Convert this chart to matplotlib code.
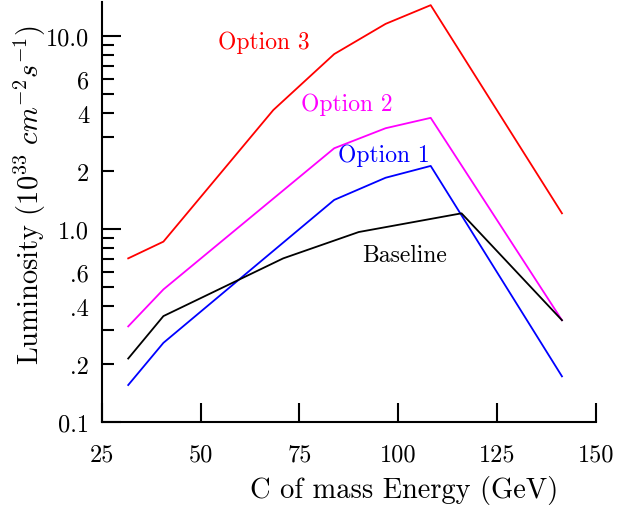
import matplotlib
matplotlib.use("Agg")
import matplotlib.pyplot as plt
from matplotlib.ticker import FixedLocator, FixedFormatter

plt.rcParams['font.family'] = ['cmr10', 'DejaVu Serif']
plt.rcParams['mathtext.fontset'] = 'cm'
plt.rcParams['axes.unicode_minus'] = False

# Data (centre-of-mass energy in GeV, luminosity in 1e33 cm^-2 s^-1)
opt3_x = [31.7, 40.6, 68.4, 83.8, 96.8, 108.2, 141.4]
opt3_y = [0.707, 0.863, 4.15, 8.09, 11.6, 14.5, 1.21]

opt2_x = [31.7, 40.6, 83.8, 96.8, 108.2, 141.4]
opt2_y = [0.314, 0.488, 2.63, 3.34, 3.78, 0.338]

opt1_x = [31.7, 40.6, 83.8, 96.8, 108.2, 141.4]
opt1_y = [0.156, 0.258, 1.42, 1.85, 2.13, 0.173]

base_x = [31.7, 40.6, 70.9, 90.0, 116.0, 141.4]
base_y = [0.214, 0.355, 0.707, 0.968, 1.21, 0.338]

labels = ["Option 3", "Option 2", "Option 1", "Baseline"]
label_x = [65.9, 86.9, 96.4, 101.5]
label_y = [9.38, 4.49, 2.42, 0.733]
colors = ["#ff0000", "#ff00ff", "#0000ff", "#000000"]

xticks = [25, 50, 75, 100, 125, 150]
ymajor = [0.1, 1.0, 10.0]
ymajor_labels = ["0.1", "1.0", "10.0"]
yminor = [0.2, 0.3, 0.4, 0.5, 0.6, 0.7, 0.8, 0.9, 2, 3, 4, 5, 6, 7, 8, 9]
yminor_labels = [".2", "", ".4", "", ".6", "", "", "", "2", "", "4", "", "6", "", "", ""]

TICK_FS = 17.5
TEXT_FS = 17
LABEL_FS = 20.5

fig = plt.figure(figsize=(6.21, 5.10), dpi=100)
ax = fig.add_axes([0.1638, 0.170, 0.9597 - 0.1638, 0.9935 - 0.170])

series = [(opt3_x, opt3_y), (opt2_x, opt2_y), (opt1_x, opt1_y), (base_x, base_y)]
for (xs, ys), c in zip(series, colors):
    ax.plot(xs, ys, color=c, lw=1.3)

for t, lx, ly, c in zip(labels, label_x, label_y, colors):
    ax.text(lx, ly, t, color=c, fontsize=TEXT_FS, ha='center', va='center')

ax.set_yscale('log')
ax.set_xlim(25, 150)
ax.set_ylim(0.1, 15.0)

ax.set_xticks(xticks)
ax.set_xticklabels([str(v) for v in xticks])
ax.yaxis.set_major_locator(FixedLocator(ymajor))
ax.yaxis.set_major_formatter(FixedFormatter(ymajor_labels))
ax.yaxis.set_minor_locator(FixedLocator(yminor))
ax.yaxis.set_minor_formatter(FixedFormatter(yminor_labels))

for s in ['top', 'right']:
    ax.spines[s].set_visible(False)
for s in ['left', 'bottom']:
    ax.spines[s].set_linewidth(1.5)

ax.tick_params(axis='x', which='major', direction='in', length=13.7, width=1.5,
               pad=15.5, labelsize=TICK_FS)
ax.tick_params(axis='y', which='major', direction='in', length=13.7, width=1.5,
               pad=9, labelsize=TICK_FS)
ax.tick_params(axis='y', which='minor', direction='in', length=8.6, width=1.5,
               pad=9, labelsize=TICK_FS)

ax.set_xlabel("C of mass Energy (GeV)", fontsize=LABEL_FS)
ax.xaxis.set_label_coords(0.6116, -0.159)
ax.xaxis.label.set_va('center')
ax.set_ylabel(r"Luminosity ($10^{33}\ cm^{-2}s^{-1}$)", fontsize=LABEL_FS)
ax.yaxis.set_label_coords(-0.145, 0.5436)
ax.yaxis.label.set_va('center')

fig.savefig("out.png", dpi=100)
